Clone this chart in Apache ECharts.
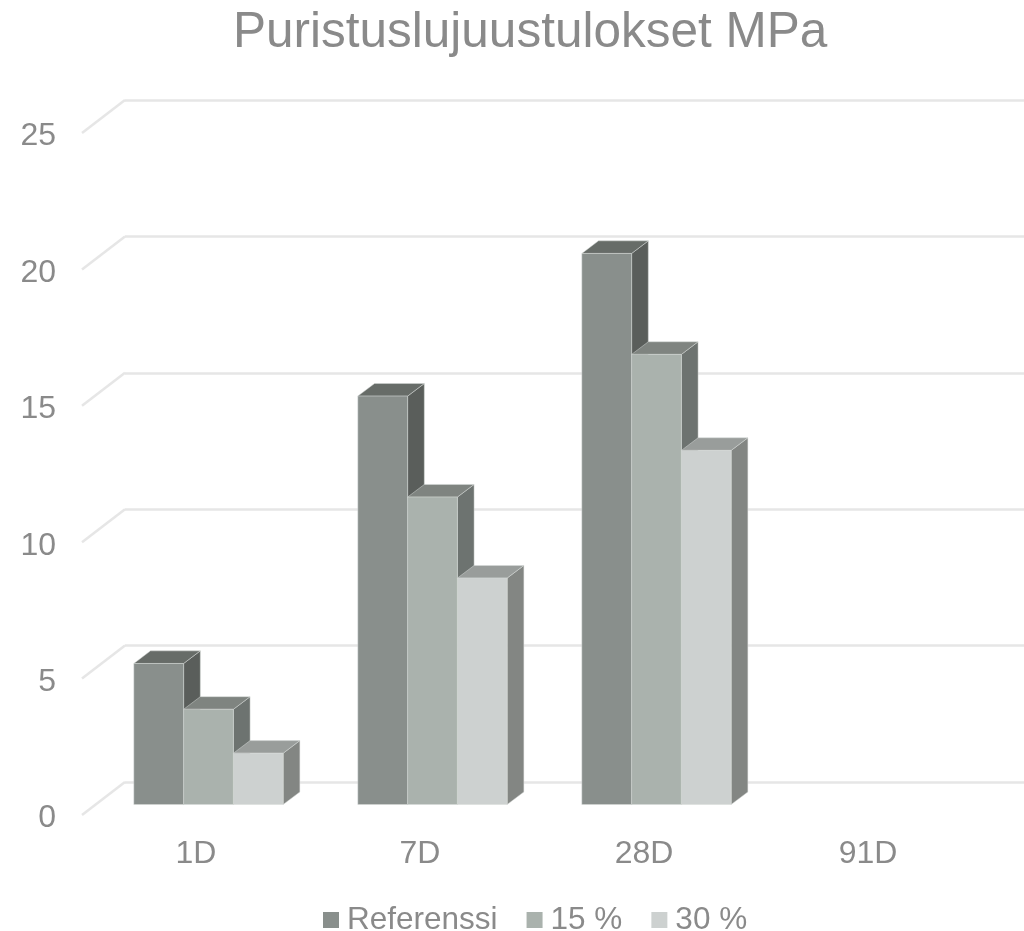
<!DOCTYPE html>
<html><head><meta charset="utf-8">
<style>html,body{margin:0;padding:0;background:#fff}#c{width:1024px;height:931px}</style>
<script src="https://cdn.jsdelivr.net/npm/echarts@6/dist/echarts.min.js"></script>
</head><body><div id="c"></div>
<script>
const titleText = 'Puristuslujuustulokset MPa';
const categories = ['1D', '7D', '28D', '91D'];
const seriesNames = ['Referenssi', '15 %', '30 %'];
const referenssi = [5.17, 14.97, 20.2, null];
const p15 = [3.49, 11.27, 16.5, null];
const p30 = [1.88, 8.3, 12.98, null];
const yTicks = [0, 5, 10, 15, 20, 25];

const faces = [
  {front:'#898F8C', top:'#676C68', side:'#5A5E5B'},
  {front:'#AAB2AD', top:'#7F8480', side:'#6D7370'},
  {front:'#CDD1D0', top:'#999D9B', side:'#838683'}
];
const TXT = '#8A8A8A', GRIDC = '#E6E6E6', FONT = '"Liberation Sans", Arial, sans-serif';
const DX = 16.7, DY = 12.6, WALL_DX = 41, WALL_DY = 33, LABEL_DROP = 3.5;

function barRenderer(idx) {
  return function (params, api) {
    const v = api.value(1);
    if (v == null || isNaN(v)) return;
    const band = api.size([1, 0])[0];
    const w = band / 1.5 / 3;
    const top = api.coord([api.value(0), v]);
    const base = api.coord([api.value(0), 0]);
    const l = top[0] - 1.5 * w + idx * w, r = l + w;
    const t = top[1], b = base[1];
    const edge = {stroke: 'rgba(215,220,218,0.6)', lineWidth: 0.8};
    const f = faces[idx];
    return {type: 'group', children: [
      {type: 'polygon', shape: {points: [[r, t], [r + DX, t - DY], [r + DX, b - DY], [r, b]]}, style: Object.assign({fill: f.side}, edge)},
      {type: 'polygon', shape: {points: [[l, t], [l + DX, t - DY], [r + DX, t - DY], [r, t]]}, style: Object.assign({fill: f.top}, edge)},
      {type: 'rect', shape: {x: l, y: t, width: w, height: b - t}, style: Object.assign({fill: f.front}, edge)}
    ]};
  };
}
const mkVal = (gi, show) => ({
  type: 'value', gridIndex: gi, min: 0, max: 25, interval: 5,
  axisLine: {show: false}, axisTick: {show: false},
  splitLine: {show: gi === 0, lineStyle: {color: GRIDC, width: 2.5}},
  axisLabel: {show: show, color: TXT, fontSize: 32, fontFamily: FONT, margin: 28}
});
const mkCat = (gi, show) => ({
  type: 'category', gridIndex: gi, data: categories,
  axisLine: {show: false}, axisTick: {show: false}, splitLine: {show: false},
  axisLabel: {show: show, color: TXT, fontSize: 32, fontFamily: FONT, margin: 19.5}
});
const option = {
  animation: false,
  backgroundColor: '#fff',
  title: {text: titleText, left: 228, top: 3, textStyle: {color: TXT, fontSize: 49.5, fontWeight: 'normal', fontFamily: FONT}},
  legend: {
    data: seriesNames, left: 318, top: 899, icon: 'rect', itemWidth: 16, itemHeight: 16, itemGap: 29,
    textStyle: {color: TXT, fontSize: 31.5, fontFamily: FONT, padding: [0, 0, 0, 3]}
  },
  grid: [
    {left: 125, right: 0, top: 100, height: 682},
    {left: 84, width: 896, top: 133 + LABEL_DROP, height: 682},
    {left: 96.5, width: 896, top: 122.5, height: 682}
  ],
  xAxis: [mkCat(0, false), mkCat(1, true), mkCat(2, false)],
  yAxis: [mkVal(0, false), mkVal(1, true), mkVal(2, false)],
  series: [
    {
      type: 'custom', name: 'wall', xAxisIndex: 1, yAxisIndex: 1, silent: true, clip: false, z: 1,
      data: yTicks.map(v => [0, v]),
      renderItem: (p, api) => {
        const y = api.coord([0, api.value(1)])[1] - LABEL_DROP;
        const x0 = api.coord([0, 0])[0] - api.size([1, 0])[0] / 2 - 2;
        return {type: 'line', shape: {x1: x0, y1: y, x2: x0 + 2 + WALL_DX, y2: y - WALL_DY}, style: {stroke: GRIDC, lineWidth: 2.5}};
      }
    }
  ].concat([referenssi, p15, p30].map((vals, i) => ({
    type: 'custom', name: seriesNames[i], xAxisIndex: 2, yAxisIndex: 2, clip: false, z: 2 + i,
    itemStyle: {color: faces[i].front},
    encode: {x: 0, y: 1},
    data: vals.map((v, k) => [k, v]),
    renderItem: barRenderer(i)
  })))
};
echarts.init(document.getElementById('c'), null, {renderer: 'canvas'}).setOption(option);
</script></body></html>
